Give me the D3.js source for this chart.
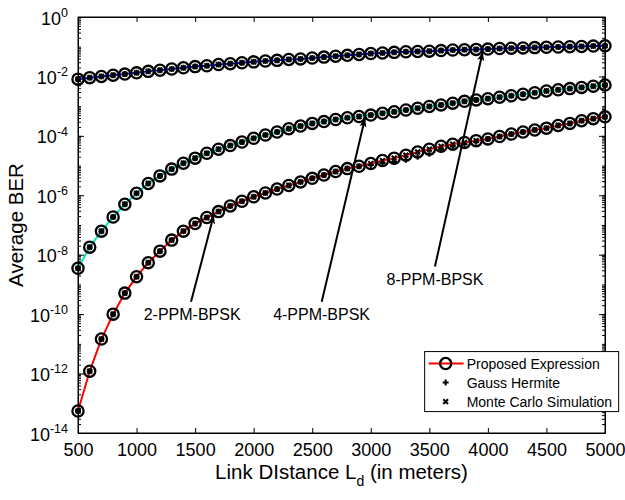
<!DOCTYPE html>
<html>
<head>
<meta charset="utf-8">
<script src="https://cdn.jsdelivr.net/npm/d3@7/dist/d3.min.js"></script>
<style>
  body { margin: 0; background: #fff; }
  text { font-family: Arial, "Liberation Sans", sans-serif; fill: #000; }
</style>
</head>
<body>
<script>
//------------------ data ------------------
var distance = [500, 600, 700, 800, 900, 1000, 1100, 1200, 1300, 1400,
  1500, 1600, 1700, 1800, 1900, 2000, 2100, 2200, 2300, 2400,
  2500, 2600, 2700, 2800, 2900, 3000, 3100, 3200, 3300, 3400,
  3500, 3600, 3700, 3800, 3900, 4000, 4100, 4200, 4300, 4400,
  4500, 4600, 4700, 4800, 4900, 5000];

// proposed expression, 8-PPM-BPSK
var ber8 = [8.1e-3, 9.1e-3, 1.0e-2, 1.1e-2, 1.2e-2, 1.32e-2, 1.48e-2, 1.62e-2, 1.78e-2, 1.95e-2,
  2.14e-2, 2.29e-2, 2.51e-2, 2.69e-2, 2.88e-2, 3.09e-2, 3.31e-2, 3.47e-2, 3.72e-2, 3.89e-2,
  4.17e-2, 4.47e-2, 4.79e-2, 5.13e-2, 5.5e-2, 5.89e-2, 6.17e-2, 6.46e-2, 6.76e-2, 6.92e-2,
  7.08e-2, 7.41e-2, 7.76e-2, 7.94e-2, 8.13e-2, 8.32e-2, 8.71e-2, 8.91e-2, 9.12e-2, 9.33e-2,
  9.55e-2, 9.77e-2, 1.0e-1, 1.02e-1, 1.05e-1, 1.07e-1];

// proposed expression, 4-PPM-BPSK
var ber4 = [3.5e-9, 1.8e-8, 6.2e-8, 1.86e-7, 5.0e-7, 1.17e-6, 2.5e-6, 4.5e-6, 7.6e-6, 1.2e-5,
  1.78e-5, 2.6e-5, 3.55e-5, 4.7e-5, 6.2e-5, 8.3e-5, 1.07e-4, 1.35e-4, 1.74e-4, 2.14e-4,
  2.63e-4, 3.02e-4, 3.55e-4, 4.07e-4, 4.47e-4, 5.0e-4, 5.75e-4, 6.46e-4, 7.41e-4, 8.51e-4,
  9.77e-4, 1.1e-3, 1.26e-3, 1.45e-3, 1.62e-3, 1.78e-3, 2.0e-3, 2.24e-3, 2.51e-3, 2.82e-3,
  3.24e-3, 3.55e-3, 3.89e-3, 4.27e-3, 4.68e-3, 5.13e-3];

// proposed expression, 2-PPM-BPSK
var ber2 = [5.5e-14, 1.2e-12, 1.45e-11, 1.0e-10, 5.1e-10, 1.82e-9, 5.4e-9, 1.32e-8, 3.1e-8, 6.2e-8,
  1.12e-7, 1.78e-7, 2.82e-7, 4.37e-7, 6.3e-7, 8.9e-7, 1.2e-6, 1.62e-6, 2.14e-6, 2.82e-6,
  3.72e-6, 4.79e-6, 6.3e-6, 7.9e-6, 9.5e-6, 1.17e-5, 1.48e-5, 1.78e-5, 2.24e-5, 2.88e-5,
  3.55e-5, 4.47e-5, 5.25e-5, 6.0e-5, 6.9e-5, 7.9e-5, 9.5e-5, 1.15e-4, 1.35e-4, 1.58e-4,
  1.82e-4, 2.24e-4, 2.63e-4, 3.24e-4, 3.8e-4, 4.37e-4];

// Gauss Hermite, 2-PPM-BPSK (sits a little under the curve around 3000-3900 m)
var gh2 = [5.5e-14, 1.2e-12, 1.45e-11, 1.0e-10, 5.1e-10, 1.82e-9, 5.4e-9, 1.32e-8, 3.1e-8, 6.2e-8,
  1.12e-7, 1.78e-7, 2.82e-7, 4.37e-7, 6.3e-7, 8.9e-7, 1.2e-6, 1.62e-6, 2.14e-6, 2.82e-6,
  3.72e-6, 4.79e-6, 6.3e-6, 7.9e-6, 9.5e-6, 1.05e-5, 1.2e-5, 1.32e-5, 1.58e-5, 2.0e-5,
  2.51e-5, 3.47e-5, 4.37e-5, 5.25e-5, 6.3e-5, 7.9e-5, 9.5e-5, 1.15e-4, 1.35e-4, 1.58e-4,
  1.82e-4, 2.24e-4, 2.63e-4, 3.24e-4, 3.8e-4, 4.37e-4];

// Gauss Hermite and Monte Carlo lie on the proposed curves elsewhere
var gh4 = ber4, gh8 = ber8;
var mc2 = ber2, mc4 = ber4, mc8 = ber8;

var seriesNames = ["2-PPM-BPSK", "4-PPM-BPSK", "8-PPM-BPSK"];
var seriesColors = ["#ff0000", "#00e6c3", "#0000ff"];

var xTicks = [500, 1000, 1500, 2000, 2500, 3000, 3500, 4000, 4500, 5000];
var yTickExps = [0, -2, -4, -6, -8, -10, -12, -14];
var legendLabels = ["Proposed Expression", "Gauss Hermite", "Monte Carlo Simulation"];

// annotation labels and arrows, in data units: [x, BER]
var labelPos = [[1475, 1e-10], [2580, 1e-10], [3548, 1.5e-9]];
var arrowFrom = [[1465, 2.6e-10], [2581, 2.6e-10], [3548, 4.0e-9]];
var arrowTo = [[1660, 2.2e-7], [2951, 4.0e-4], [3956, 6.8e-2]];

//------------------ svg ------------------
var margin = { top: 17, right: 20, bottom: 67, left: 78 },
    width = 625 - margin.left - margin.right,
    height = 500 - margin.top - margin.bottom;

var svgRoot = d3.select("body").append("svg")
    .attr("width", 625)
    .attr("height", 500);

var svg = svgRoot.append("g")
    .attr("transform", "translate(" + margin.left + "," + margin.top + ")");

var x = d3.scaleLinear().domain([500, 5000]).range([0, width]);
var y = d3.scaleLog().domain([1e-14, 1]).range([height, 0]);

// arrowhead
svgRoot.append("defs").append("marker")
    .attr("id", "head")
    .attr("viewBox", "-10 -5 12 10")
    .attr("markerWidth", 12)
    .attr("markerHeight", 10)
    .attr("markerUnits", "userSpaceOnUse")
    .attr("orient", "auto")
    .append("path")
    .attr("d", "M0,0 L-9,-3.5 L-7,0 L-9,3.5 Z")
    .attr("fill", "#000");

//------------------ axes ------------------
var xAxis = svg.append("g")
    .attr("transform", "translate(0," + height + ")")
    .call(d3.axisBottom(x).tickValues(xTicks).tickFormat(d3.format("d"))
        .tickSizeInner(-5).tickSizeOuter(0).tickPadding(10));
xAxis.selectAll("text").attr("font-size", 18).attr("font-family", "Arial, 'Liberation Sans', sans-serif");

svg.append("g")
    .call(d3.axisTop(x).tickValues(xTicks).tickSizeInner(-5).tickSizeOuter(0).tickFormat(""));

// minor log ticks on both sides
var minorTicks = [];
for (var k = -14; k < 0; k++) {
  for (var j = 1; j < 10; j++) minorTicks.push(j * Math.pow(10, k));
}
var majorTicks = yTickExps.map(function(e) { return Math.pow(10, e); });

svg.append("g")
    .call(d3.axisLeft(y).tickValues(majorTicks).tickSizeInner(-6).tickSizeOuter(0).tickFormat(""));
svg.append("g")
    .attr("transform", "translate(" + width + ",0)")
    .call(d3.axisRight(y).tickValues(majorTicks).tickSizeInner(-6).tickSizeOuter(0).tickFormat(""));
svg.append("g")
    .call(d3.axisLeft(y).tickValues(minorTicks).tickSizeInner(-3).tickSizeOuter(0).tickFormat(""))
    .select(".domain").remove();
svg.append("g")
    .attr("transform", "translate(" + width + ",0)")
    .call(d3.axisRight(y).tickValues(minorTicks).tickSizeInner(-3).tickSizeOuter(0).tickFormat(""))
    .select(".domain").remove();

svg.selectAll(".domain, .tick line").attr("stroke", "#000").attr("stroke-width", 1);

// y tick labels as 10^k
var yLabels = svg.append("g").selectAll("text")
    .data(yTickExps)
    .enter().append("text")
    .attr("x", -10)
    .attr("y", function(d) { return y(Math.pow(10, d)); })
    .attr("dy", "0.42em")
    .attr("text-anchor", "end")
    .attr("font-size", 18);
yLabels.append("tspan").text("10");
yLabels.append("tspan")
    .attr("dy", "-0.62em")
    .attr("font-size", 12.5)
    .text(function(d) { return d === 0 ? "0" : "-" + Math.abs(d); });

// axis titles
var xTitle = svg.append("text")
    .attr("x", width / 2)
    .attr("y", 462)
    .attr("text-anchor", "middle")
    .attr("font-size", 20.5);
xTitle.append("tspan").text("Link DIstance L");
xTitle.append("tspan").attr("dy", 7).attr("font-size", 14).text("d");
xTitle.append("tspan").attr("dy", -7).text(" (in meters)");

svg.append("text")
    .attr("transform", "translate(" + (-55) + "," + (height / 2) + ") rotate(-90)")
    .attr("text-anchor", "middle")
    .attr("font-size", 20.5)
    .text("Average BER");

// top and right box lines
svg.append("rect")
    .attr("width", width)
    .attr("height", height)
    .attr("fill", "none")
    .attr("stroke", "#000")
    .attr("stroke-width", 1);

//------------------ curves ------------------
var proposed = [ber2, ber4, ber8];
var gauss = [gh2, gh4, gh8];
var monte = [mc2, mc4, mc8];

var line = d3.line()
    .x(function(d, i) { return x(distance[i]); })
    .y(function(d) { return y(d); });

proposed.forEach(function(vals, s) {
  svg.append("path")
      .datum(vals)
      .attr("d", line)
      .attr("fill", "none")
      .attr("stroke", seriesColors[s])
      .attr("stroke-width", 2);
});

proposed.forEach(function(vals, s) {
  svg.append("g").selectAll("circle")
      .data(vals)
      .enter().append("circle")
      .attr("cx", function(d, i) { return x(distance[i]); })
      .attr("cy", function(d) { return y(d); })
      .attr("r", 5.6)
      .attr("fill", "none")
      .attr("stroke", "#000")
      .attr("stroke-width", 2.3);
});

var plusPath = "M-3,0H3M0,-3V3";
var crossPath = "M-2.4,-2.4L2.4,2.4M-2.4,2.4L2.4,-2.4";

gauss.forEach(function(vals) {
  svg.append("g").selectAll("path")
      .data(vals)
      .enter().append("path")
      .attr("transform", function(d, i) { return "translate(" + x(distance[i]) + "," + y(d) + ")"; })
      .attr("d", plusPath)
      .attr("stroke", "#000")
      .attr("stroke-width", 2);
});

monte.forEach(function(vals) {
  svg.append("g").selectAll("path")
      .data(vals)
      .enter().append("path")
      .attr("transform", function(d, i) { return "translate(" + x(distance[i]) + "," + y(d) + ")"; })
      .attr("d", crossPath)
      .attr("stroke", "#000")
      .attr("stroke-width", 2);
});

//------------------ annotations ------------------
seriesNames.forEach(function(name, s) {
  svg.append("line")
      .attr("x1", x(arrowFrom[s][0]))
      .attr("y1", y(arrowFrom[s][1]))
      .attr("x2", x(arrowTo[s][0]))
      .attr("y2", y(arrowTo[s][1]))
      .attr("stroke", "#000")
      .attr("stroke-width", 2)
      .attr("marker-end", "url(#head)");
  svg.append("text")
      .attr("x", x(labelPos[s][0]))
      .attr("y", y(labelPos[s][1]))
      .attr("dy", "0.36em")
      .attr("text-anchor", "middle")
      .attr("font-size", 16)
      .text(name);
});

//------------------ legend ------------------
var legend = svg.append("g")
    .attr("transform", "translate(" + (x(3460)) + "," + (y(5.5e-12)) + ")");

legend.append("rect")
    .attr("width", 194)
    .attr("height", 60)
    .attr("fill", "#fff")
    .attr("stroke", "#000")
    .attr("stroke-width", 1);

legend.append("line")
    .attr("x1", 4).attr("x2", 39)
    .attr("y1", 12).attr("y2", 12)
    .attr("stroke", "#ff0000")
    .attr("stroke-width", 2);
legend.append("circle")
    .attr("cx", 21).attr("cy", 12).attr("r", 5.6)
    .attr("fill", "none").attr("stroke", "#000").attr("stroke-width", 2.3);
legend.append("path")
    .attr("transform", "translate(21,31)")
    .attr("d", plusPath).attr("stroke", "#000").attr("stroke-width", 2);
legend.append("path")
    .attr("transform", "translate(21,50)")
    .attr("d", crossPath).attr("stroke", "#000").attr("stroke-width", 2);

legend.selectAll(".lbl")
    .data(legendLabels)
    .enter().append("text")
    .attr("class", "lbl")
    .attr("x", 42)
    .attr("y", function(d, i) { return 12 + i * 19; })
    .attr("dy", "0.36em")
    .attr("font-size", 14)
    .text(function(d) { return d; });
</script>
</body>
</html>
